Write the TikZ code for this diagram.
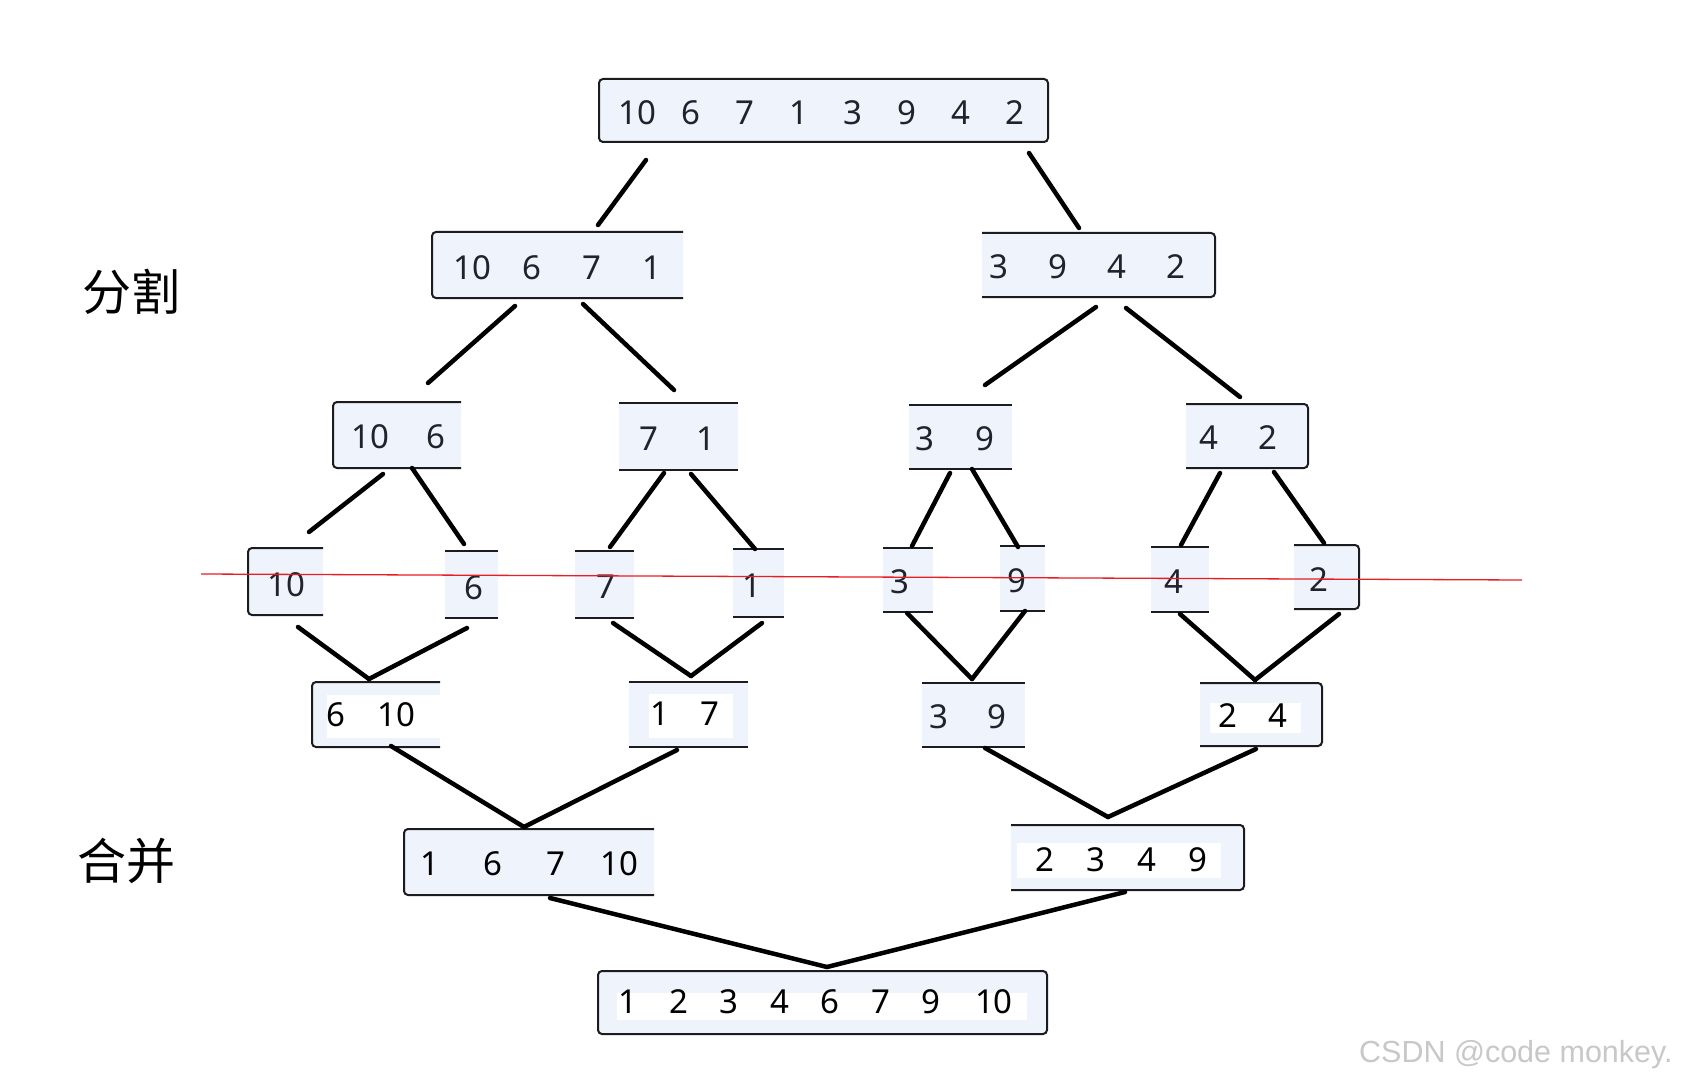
\documentclass[tikz,border=0pt]{standalone}
\usepackage{fontspec}
\setmainfont{Noto Sans}
\newfontfamily\cjkfont{Noto Sans CJK SC}
\newfontfamily\wmfont{Liberation Sans}
\usetikzlibrary{calc}
\definecolor{boxfill}{RGB}{239,243,252}
\definecolor{boxline}{RGB}{28,28,32}
\definecolor{digitc}{RGB}{32,35,44}
\definecolor{wmgray}{RGB}{200,200,200}
\definecolor{redline}{RGB}{232,30,36}
\newcommand\dgt[2]{\makebox[#1pt]{#2}}
\begin{document}
\begin{tikzpicture}[x=1pt,y=-1pt,
  boxbg/.style={rectangle, fill=boxfill, draw=none, inner sep=0pt, outer sep=0pt},
  rim/.style={draw=boxline, line width=2pt, rounded corners=4pt},
  txt/.style={inner sep=0pt, outer sep=0pt, text=digitc, font=\fontsize{33}{38}\selectfont},
  link/.style={draw=black, line width=4.5pt, line cap=round},
  patch/.style={fill=white, draw=none}
]
\useasboundingbox[fill=white] (0,0) rectangle (1683,1083);

% ---------- boxes ----------
\node[boxbg, minimum width=449pt, minimum height=63pt] (n0) at (823.5,110.5) {};
\node[boxbg, minimum width=251pt, minimum height=66pt] (l1a) at (557.5,265) {};
\node[boxbg, minimum width=233pt, minimum height=64pt] (l1b) at (1098.5,265) {};
\node[boxbg, minimum width=128pt, minimum height=66pt] (l2a) at (397,435) {};
\node[boxbg, minimum width=119pt, minimum height=67pt] (l2b) at (678.5,436.5) {};
\node[boxbg, minimum width=103pt, minimum height=64pt] (l2c) at (960.5,437) {};
\node[boxbg, minimum width=122pt, minimum height=64pt] (l2d) at (1247,436) {};
\node[boxbg, minimum width=75pt, minimum height=67pt] (la) at (285.5,581.5) {};
\node[boxbg, minimum width=53pt, minimum height=67pt] (lb) at (471.5,584.5) {};
\node[boxbg, minimum width=59pt, minimum height=67pt] (lc) at (604.5,584.5) {};
\node[boxbg, minimum width=51pt, minimum height=68pt] (ld) at (758.5,583) {};
\node[boxbg, minimum width=50pt, minimum height=64pt] (le) at (908,580) {};
\node[boxbg, minimum width=45pt, minimum height=65pt] (lf) at (1022.5,578.5) {};
\node[boxbg, minimum width=58pt, minimum height=65pt] (lg) at (1180,579.5) {};
\node[boxbg, minimum width=65pt, minimum height=64pt] (lh) at (1326.5,577) {};
\node[boxbg, minimum width=128pt, minimum height=65pt] (m1) at (376,714.5) {};
\node[boxbg, minimum width=119pt, minimum height=65pt] (m2) at (688.5,714.5) {};
\node[boxbg, minimum width=103pt, minimum height=64pt] (m3) at (973.5,715) {};
\node[boxbg, minimum width=122pt, minimum height=63pt] (m4) at (1261,714.5) {};
\node[boxbg, minimum width=250pt, minimum height=66pt] (p1) at (529,862) {};
\node[boxbg, minimum width=233pt, minimum height=65pt] (p2) at (1127.5,857.5) {};
\node[boxbg, minimum width=449pt, minimum height=63pt] (q) at (822.5,1002.5) {};

% white patches behind some texts
\fill[patch] (327,695) rectangle (440,738);
\fill[patch] (649,694) rectangle (733,738);
\fill[patch] (1210,703) rectangle (1301,733);
\fill[patch] (1017,843) rectangle (1221,878);
\fill[patch] (617,993) rectangle (1027,1020);

% ---------- borders ----------
\draw[rim] (n0.north west) rectangle (n0.south east);
\draw[rim] (q.north west) rectangle (q.south east);
\foreach \b in {l1a,l2a,la,m1,p1}{
  \draw[rim] (\b.north east) -- (\b.north west) -- (\b.south west) -- (\b.south east);
}
\foreach \b in {l1b,l2d,lh,m4,p2}{
  \draw[rim] (\b.north west) -- (\b.north east) -- (\b.south east) -- (\b.south west);
}
\foreach \b in {l2b,l2c,lb,lc,ld,le,lf,lg,m2,m3}{
  \draw[rim] (\b.north west) -- (\b.north east);
  \draw[rim] (\b.south west) -- (\b.south east);
}

% ---------- texts ----------
\node[txt] (t0) at (826,113) {\dgt{54}{10}\dgt{54}{6}\dgt{54}{7}\dgt{54}{1}\dgt{54}{3}\dgt{54}{9}\dgt{54}{4}\dgt{54}{2}};
\node[txt] (t1a) at (562,268) {\dgt{60}{10}\dgt{60}{6}\dgt{60}{7}\dgt{60}{1}};
\node[txt] (t1b) at (1087,267) {\dgt{59}{3}\dgt{59}{9}\dgt{59}{4}\dgt{59}{2}};
\node[txt] (t2a) at (403,437) {\dgt{65}{10}\dgt{65}{6}};
\node[txt] (t2b) at (677,439) {\dgt{57}{7}\dgt{57}{1}};
\node[txt] (t2c) at (955,438.5) {\dgt{59.5}{3}\dgt{59.5}{9}};
\node[txt] (t2d) at (1238.5,438) {\dgt{59}{4}\dgt{59}{2}};
\node[txt] (ta) at (286,584.5) {10};
\node[txt] (tb) at (473.5,588) {6};
\node[txt] (tc) at (605.5,587) {7};
\node[txt] (td) at (751.5,586) {1};
\node[txt] (te) at (900,582) {3};
\node[txt] (tf) at (1017,581) {9};
\node[txt] (tg) at (1174,582) {4};
\node[txt] (th) at (1319,580) {2};
\node[txt, text=black] (t4a) at (366,714.5) {\dgt{61}{6}\dgt{61}{10}};
\node[txt, text=black] (t4b) at (685,714) {\dgt{50}{1}\dgt{50}{7}};
\node[txt] (t4c) at (967.7,716.5) {\dgt{58.5}{3}\dgt{58.5}{9}};
\node[txt, text=black] (t4d) at (1252.7,716) {\dgt{50.5}{2}\dgt{50.5}{4}};
\node[txt, text=black] (t5a) at (524.75,864) {\dgt{63}{1}\dgt{63}{6}\dgt{63}{7}\dgt{63}{10}};
\node[txt, text=black] (t5b) at (1121,860) {\dgt{51}{2}\dgt{51}{3}\dgt{51}{4}\dgt{51}{9}};
\node[txt, text=black] (tq) at (817.25,1002) {\dgt{50.5}{1}\dgt{50.5}{2}\dgt{50.5}{3}\dgt{50.5}{4}\dgt{50.5}{6}\dgt{50.5}{7}\dgt{50.5}{9}\dgt{75.5}{10}};

% ---------- side labels & watermark ----------
\node[inner sep=0pt, font=\cjkfont\fontsize{49}{52}\selectfont] (lab1) at (131,292) {分割};
\node[inner sep=0pt, font=\cjkfont\fontsize{49}{52}\selectfont] (lab2) at (126,861) {合并};
\node[inner sep=0pt, anchor=base west, text=wmgray, font=\wmfont\fontsize{30.5}{33}\selectfont] (wm) at (1359,1062) {CSDN @code monkey.};

% ---------- red line ----------
\coordinate (rl1) at (201,574);
\coordinate (rl2) at (1522,580);
\draw[redline, line width=1.3pt] (rl1) -- (rl2);

% ---------- junctions ----------
\coordinate (jm1) at ($(m1)+(-7,-35.5)$);
\coordinate (jm2) at ($(m2)+(2.5,-38.5)$);
\coordinate (jm3) at ($(m3)+(-1.5,-36)$);
\coordinate (jm4) at ($(m4)+(-6,-34.5)$);
\coordinate (jp1) at ($(p1)+(-5,-35)$);
\coordinate (jp2) at ($(p2)+(-19.5,-40.5)$);
\coordinate (jq) at ($(q)+(4.5,-35.5)$);

% ---------- split connectors ----------
\draw[link] ($(n0)+(-177.5,49.5)$) -- ($(l1a)+(40.5,-40)$);
\draw[link] ($(n0)+(205.5,42.5)$) -- ($(l1b)+(-19.5,-37)$);
\draw[link] ($(l1a)+(-42.5,41)$) -- ($(l2a)+(31,-52)$);
\draw[link] ($(l1a)+(25.5,39)$) -- ($(l2b)+(-4.5,-46.5)$);
\draw[link] ($(l1b)+(-2.5,42)$) -- ($(l2c)+(24.5,-52)$);
\draw[link] ($(l1b)+(27.5,43)$) -- ($(l2d)+(-7,-39)$);
\draw[link] ($(l2a)+(-14,39)$) -- ($(la)+(23.5,-49.5)$);
\draw[link] ($(l2a)+(15,33)$) -- ($(lb)+(-7.5,-40.5)$);
\draw[link] ($(l2b)+(-14.5,36.5)$) -- ($(lc)+(5.5,-37.5)$);
\draw[link] ($(l2b)+(12.5,37.5)$) -- ($(ld)+(-3.5,-34)$);
\draw[link] ($(l2c)+(-10.5,36)$) -- ($(le)+(4,-34)$);
\draw[link] ($(l2c)+(11.5,32)$) -- ($(lf)+(-4.5,-31.5)$);
\draw[link] ($(l2d)+(-27,37)$) -- ($(lg)+(1,-34.5)$);
\draw[link] ($(l2d)+(27,36)$) -- ($(lh)+(-2.5,-34)$);

% ---------- merge connectors ----------
\draw[link] ($(la)+(12.5,45.5)$) -- (jm1);
\draw[link] ($(lb)+(-4.5,43.5)$) -- (jm1);
\draw[link] ($(lc)+(8.5,38.5)$) -- (jm2);
\draw[link] ($(ld)+(3.5,40)$) -- (jm2);
\draw[link] ($(le)+(-1,33)$) -- (jm3);
\draw[link] ($(lf)+(2.5,32.5)$) -- (jm3);
\draw[link] ($(lg)+(0,34.5)$) -- (jm4);
\draw[link] ($(lh)+(12.5,37)$) -- (jm4);
\draw[link] ($(m1)+(15,31.5)$) -- (jp1);
\draw[link] ($(m2)+(-11.5,35.5)$) -- (jp1);
\draw[link] ($(m3)+(11.5,33)$) -- (jp2);
\draw[link] ($(m4)+(-5,34.5)$) -- (jp2);
\draw[link] ($(p1)+(21,36)$) -- (jq);
\draw[link] ($(p2)+(-2.5,34.5)$) -- (jq);
\end{tikzpicture}
\end{document}
